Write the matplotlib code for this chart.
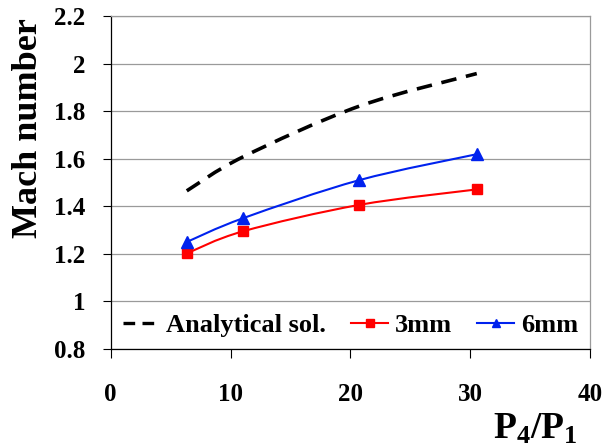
import numpy as np
import matplotlib
matplotlib.use('Agg')
import matplotlib.pyplot as plt
from matplotlib.path import Path
from matplotlib.patches import PathPatch
from matplotlib.lines import Line2D

# data
pressure_ratio = [6.35, 11.05, 20.75, 30.55]
mach_analytical = [1.465, 1.608, 1.821, 1.958]
mach_3mm = [1.202, 1.295, 1.406, 1.471]
mach_6mm = [1.250, 1.350, 1.510, 1.619]

x_ticks = [0, 10, 20, 30, 40]
y_ticks = [0.8, 1.0, 1.2, 1.4, 1.6, 1.8, 2.0, 2.2]
y_tick_labels = ['0.8', '1', '1.2', '1.4', '1.6', '1.8', '2', '2.2']

plt.rcParams['font.family'] = ['Liberation Serif', 'DejaVu Serif']
plt.rcParams['font.weight'] = 'bold'
plt.rcParams['mathtext.fontset'] = 'custom'
plt.rcParams['mathtext.rm'] = 'Liberation Serif:bold'
plt.rcParams['mathtext.it'] = 'Liberation Serif:bold'
plt.rcParams['mathtext.bf'] = 'Liberation Serif:bold'


def smooth_path(xs, ys):
    # excel-style smoothed line: catmull-rom turned into cubic bezier pieces
    pts = np.column_stack([xs, ys]).astype(float)
    n = len(pts)
    verts = [pts[0]]
    codes = [Path.MOVETO]
    for i in range(n - 1):
        p_prev = pts[i - 1] if i > 0 else pts[i]
        p_next = pts[i + 2] if i + 2 < n else pts[i + 1]
        c1 = pts[i] + (pts[i + 1] - p_prev) / 6.0
        c2 = pts[i + 1] - (p_next - pts[i]) / 6.0
        verts += [c1, c2, pts[i + 1]]
        codes += [Path.CURVE4] * 3
    return Path(verts, codes)


fig = plt.figure(figsize=(6.03, 4.47), dpi=100)
ax = fig.add_axes([0.1836, 0.2192, 0.7948, 0.7450])

grid_color = '#9a9a9a'
ax.grid(axis='y', color=grid_color, linewidth=0.9)
ax.set_axisbelow(True)

dash = PathPatch(smooth_path(pressure_ratio, mach_analytical), fill=False,
                 edgecolor='black', linewidth=2.6, capstyle='butt')
dash.set_linestyle((0, (4.3, 2.7)))
ax.add_patch(dash)

red_line = PathPatch(smooth_path(pressure_ratio, mach_3mm), fill=False,
                     edgecolor='#ff0000', linewidth=1.5)
ax.add_patch(red_line)
ax.plot(pressure_ratio, mach_3mm, ls='none', marker='s', ms=7.5,
        color='#ff0000', zorder=3)

blue_line = PathPatch(smooth_path(pressure_ratio, mach_6mm), fill=False,
                      edgecolor='#0022ee', linewidth=1.5)
ax.add_patch(blue_line)
ax.plot(pressure_ratio, mach_6mm, ls='none', marker='^', ms=8,
        color='#0022ee', zorder=3)

ax.set_xlim(0, 40)
ax.set_ylim(0.8, 2.2)
ax.set_xticks(x_ticks)
ax.set_yticks(y_ticks)
ax.set_yticklabels(y_tick_labels)
ax.tick_params(axis='x', direction='out', length=6.5, width=0.8, pad=18,
               labelsize=18)
ax.tick_params(axis='y', direction='out', length=6, width=0.8, pad=12.5,
               labelsize=18)

for side in ['top', 'right']:
    ax.spines[side].set_color(grid_color)
    ax.spines[side].set_linewidth(0.9)
for side in ['left', 'bottom']:
    ax.spines[side].set_color('black')
    ax.spines[side].set_linewidth(0.9)

ax.set_ylabel('Mach number', fontsize=26, fontweight='bold', va='center')
ax.yaxis.set_label_coords(-0.172, 0.665)
ax.set_xlabel(r'P$_4$/P$_1$', fontsize=27, fontweight='bold', va='top')
ax.xaxis.set_label_coords(0.887, -0.189)

handles = [
    Line2D([], [], color='black', lw=2.4, ls=(0, (3.5, 2.2))),
    Line2D([], [], color='#ff0000', lw=1.5, marker='s', ms=6),
    Line2D([], [], color='#0022ee', lw=1.5, marker='^', ms=6),
]
ax.legend(handles, ['Analytical sol.', '3mm', '6mm'], ncol=3, frameon=False,
          loc='center', bbox_to_anchor=(0.5, 0.072), fontsize=19,
          handlelength=1.4, handletextpad=0.25, columnspacing=0.95,
          borderpad=0, borderaxespad=0)

fig.savefig('out.png', dpi=100)
